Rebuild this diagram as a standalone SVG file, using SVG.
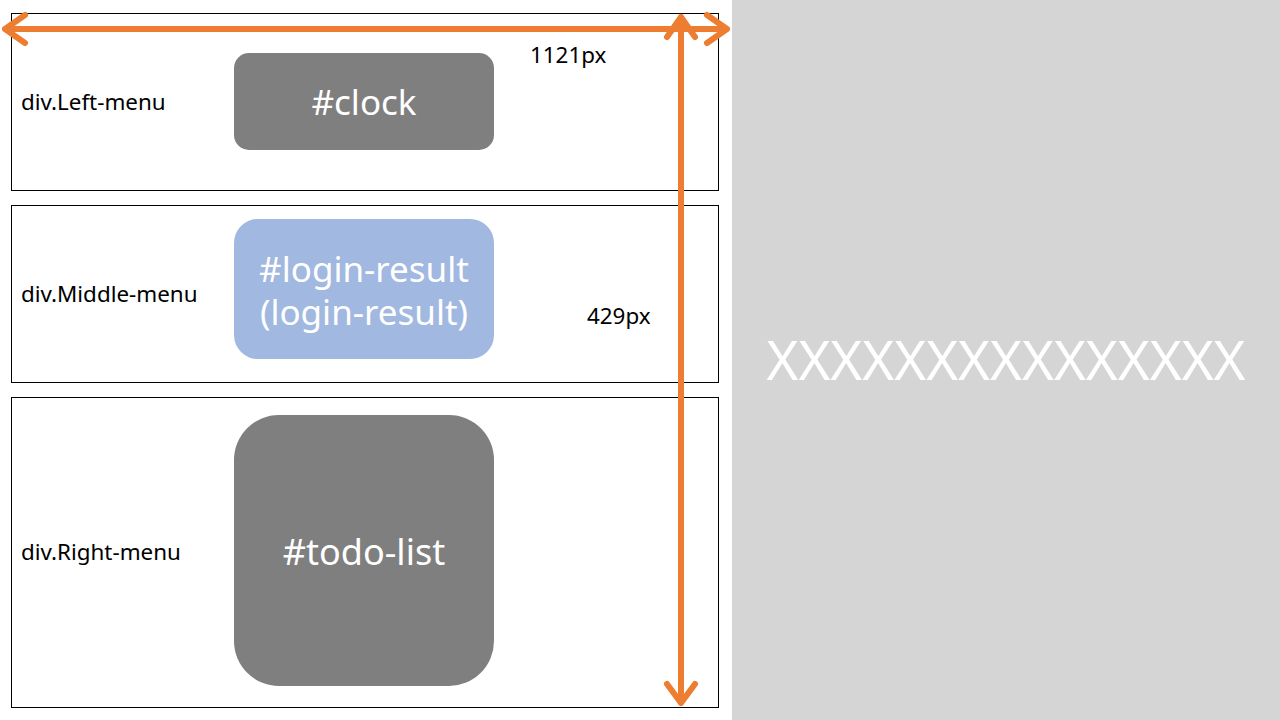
<svg xmlns="http://www.w3.org/2000/svg" width="1280" height="720" viewBox="0 0 1280 720">
<style>
.frame{fill:#fff;stroke:#000;stroke-width:1}
.lbl{font-family:"Noto Sans","Open Sans",sans-serif;font-size:22.4px;fill:#000}
.node{font-family:"Noto Sans","Open Sans",sans-serif;fill:#fff;text-anchor:middle}
.arr{fill:none;stroke:#ed7d31;stroke-width:6;stroke-linecap:round;stroke-linejoin:round}
</style>
<rect x="0" y="0" width="1280" height="720" fill="#fff"/>
<rect x="732" y="0" width="548" height="720" fill="#d5d5d5"/>
<text x="1006" y="380" class="node" font-size="54.5">XXXXXXXXXXXXXXX</text>
<g id="left-menu">
<rect class="frame" x="11.5" y="13.5" width="707" height="177"/>
<text class="lbl" x="21" y="110">div.Left-menu</text>
</g>
<g id="middle-menu">
<rect class="frame" x="11.5" y="205.5" width="707" height="177"/>
<text class="lbl" x="21" y="302">div.Middle-menu</text>
</g>
<g id="right-menu">
<rect class="frame" x="11.5" y="397.5" width="707" height="310"/>
<text class="lbl" x="21" y="560">div.Right-menu</text>
</g>
<g id="clock">
<rect x="234" y="53" width="260" height="97" rx="15" fill="#7f7f7f"/>
<text class="node" x="364" y="115" font-size="35">#clock</text>
</g>
<g id="login-result">
<rect x="234" y="219" width="260" height="140" rx="24" fill="#a1b8e1"/>
<text class="node" x="364" y="282" font-size="35">#login-result</text>
<text class="node" x="364" y="325" font-size="35">(login-result)</text>
</g>
<g id="todo-list">
<rect x="234" y="415" width="260" height="271" rx="45" fill="#7f7f7f"/>
<text class="node" x="364" y="565" font-size="36">#todo-list</text>
</g>
<g id="connectors">
<path class="arr" d="M5 29 H727 M25 15 L5 29 L25 43 M707 15 L727 29 L707 43"/>
<path class="arr" d="M681 17 V703 M667 37 L681 17 L695 37 M667 684 L681 703 L695 684"/>
</g>
<text class="lbl" x="530" y="63">1121px</text>
<text class="lbl" x="587" y="324">429px</text>
</svg>
